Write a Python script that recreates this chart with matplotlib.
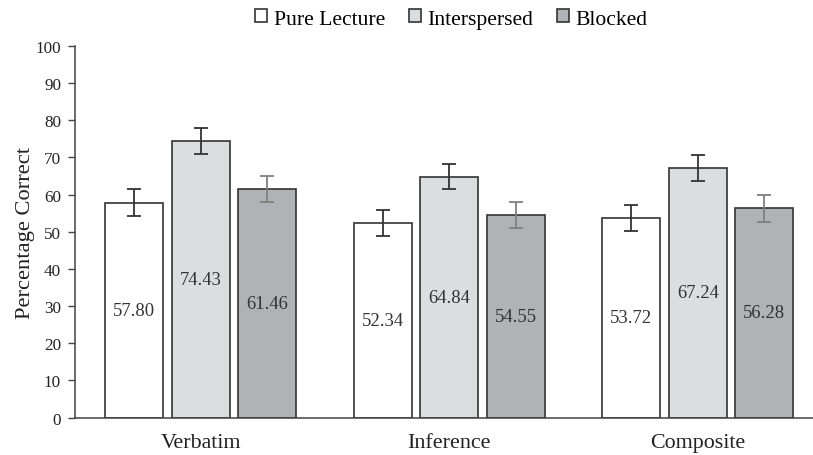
import matplotlib
matplotlib.use("Agg")
import matplotlib.pyplot as plt
import numpy as np

categories = ["Verbatim", "Inference", "Composite"]
series_names = ["Pure Lecture", "Interspersed", "Blocked"]
pure_lecture = [57.80, 52.34, 53.72]
interspersed = [74.43, 64.84, 67.24]
blocked = [61.46, 54.55, 56.28]
err_pure = [3.6, 3.5, 3.45]
err_inter = [3.55, 3.4, 3.55]
err_blocked = [3.5, 3.45, 3.6]

plt.rcParams['font.family'] = ['Liberation Serif', 'DejaVu Serif']

fig = plt.figure(figsize=(8.13, 4.56), dpi=100)
ax = fig.add_axes([0.0923, 0.0822, 0.9077, 0.8147])

x = np.arange(len(categories))
w = 0.233
off = 0.2675
fills = ["#FFFFFF", "#DCDDDF", "#B1B2B5"]
ecols = ["#333333", "#333333", "#808080"]
vals = [pure_lecture, interspersed, blocked]
errs = [err_pure, err_inter, err_blocked]
handles = []
for i, (v, e) in enumerate(zip(vals, errs)):
    pos = x + (i - 1) * off
    b = ax.bar(pos, v, w, color=fills[i], edgecolor="#333333", linewidth=1.2,
               label=series_names[i], zorder=2)
    handles.append(b)
    ax.errorbar(pos, v, yerr=e, fmt="none", ecolor=ecols[i], elinewidth=1.3,
                capsize=4.7, capthick=1.3, zorder=3)
    for p, val in zip(pos, v):
        ax.text(p, val / 2, f"{val:.2f}", ha="center", va="center",
                fontsize=13.4, color="#333333", zorder=4)

ax.set_xlim(-0.506, 2.463)
ax.set_ylim(0, 100)
ax.set_yticks(np.arange(0, 101, 10))
ax.set_xticks(x)
ax.set_xticklabels(categories, fontsize=15.8, color="#222222")
ax.tick_params(axis="x", length=0, pad=11)
ax.tick_params(axis="y", length=5, width=1, color="#444444", labelsize=12.3,
               labelcolor="#222222", direction="out", pad=5)
for s in ["top", "right"]:
    ax.spines[s].set_visible(False)
for s in ["left", "bottom"]:
    ax.spines[s].set_color("#444444")
    ax.spines[s].set_linewidth(1.1)
ax.set_ylabel("Percentage Correct", fontsize=16.2, color="#222222", labelpad=0.5)

fig.legend(handles=handles, labels=series_names, loc="center",
           bbox_to_anchor=(451.5 / 813, 1 - 20 / 456), ncol=3, frameon=False,
           fontsize=15.6, handlelength=0.55, handleheight=0.55,
           handletextpad=0.3, columnspacing=1.1, borderpad=0.0,
           borderaxespad=0.0)

fig.savefig("out.png", dpi=100)
